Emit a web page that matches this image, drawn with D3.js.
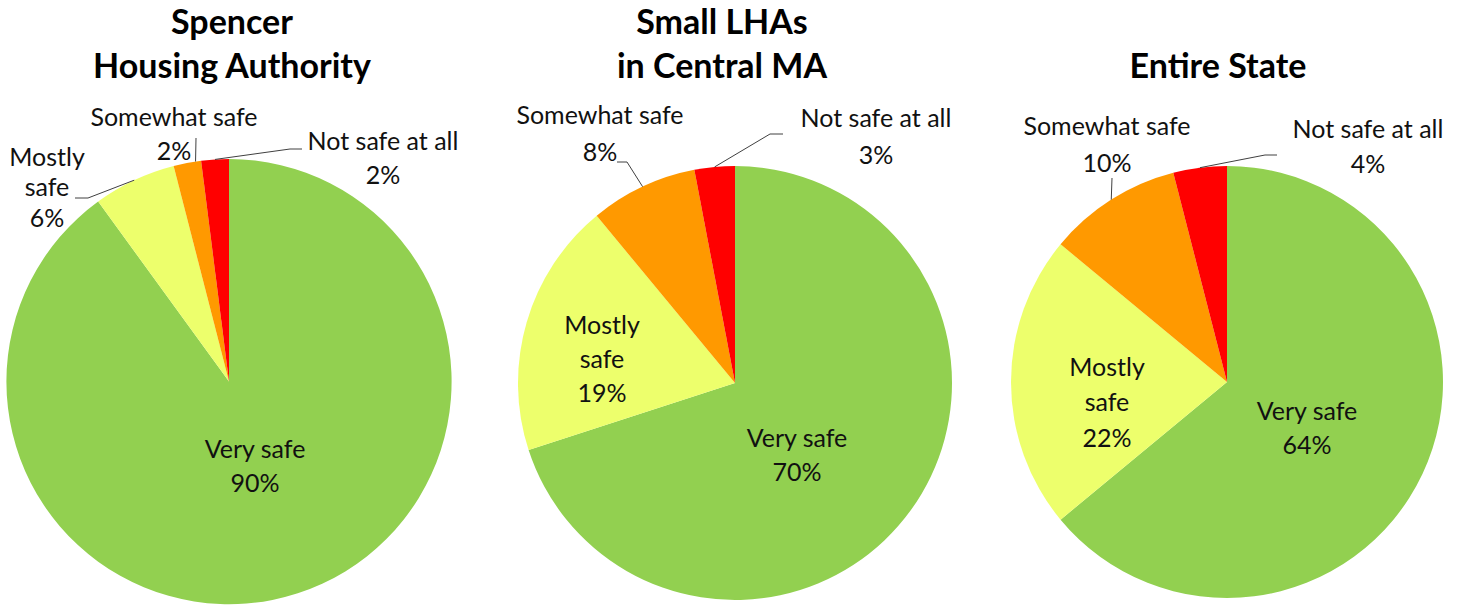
<!DOCTYPE html>
<html>
<head>
<meta charset="utf-8">
<script src="https://cdn.jsdelivr.net/npm/d3@7"></script>
<style>
  body { margin: 0; background: #fff; }
  svg { display: block; font-family: Lato, "Open Sans", sans-serif; }
  .title { font-size: 34px; font-weight: 700; fill: #000; text-anchor: middle; }
  .label { font-size: 25px; fill: #111; text-anchor: middle; }
  .leader { fill: none; stroke: #404040; stroke-width: 1; }
</style>
</head>
<body>
<svg id="chart" width="1466" height="605"></svg>
<script>
'use strict';

// data
const categories = ['Very safe', 'Mostly safe', 'Somewhat safe', 'Not safe at all'];
const chartTitles = [['Spencer', 'Housing Authority'], ['Small LHAs', 'in Central MA'], ['Entire State']];
const spencerValues = [90, 6, 2, 2];
const centralValues = [70, 19, 8, 3];
const stateValues = [64, 22, 10, 4];
const colors = ['#92d050', '#edff6c', '#ff9900', '#ff0000'];

// layout of each pie (center, radius, title position)
const pies = [
    { values: spencerValues, cx: 229, cy: 381.6, r: 222.6, tx: 232, ty: [22, 66] },
    { values: centralValues, cx: 735, cy: 383, r: 217, tx: 722, ty: [22, 66] },
    { values: stateValues, cx: 1227, cy: 382, r: 216, tx: 1218, ty: [66] }
];

// label placement relative to pie center; leader goes from text to slice edge
const labelLayout = [
    [
        { x: 26, y: 67.4, lines: 'split' },
        { x: -182, y: -224.6, lh: 30.5, lines: 'mostly', leader: [[-154, -183.6], [-141, -183.6]] },
        { x: -55, y: -264.6, leader: [[-33, -243.6]], t: 0.8 },
        { x: 154, y: -240.6, leader: [[73, -232.6], [61, -232.6]] }
    ],
    [
        { x: 62, y: 55, lines: 'split' },
        { x: -133, y: -58, lines: 'mostly' },
        { x: -135, y: -268, lh: 37, leader: [[-118, -221], [-108, -221]] },
        { x: 141, y: -265, lh: 37, leader: [[48, -249], [35, -249]] }
    ],
    [
        { x: 80, y: 29, lines: 'split' },
        { x: -120, y: -15, lh: 35.5, lines: 'mostly' },
        { x: -120, y: -256, lh: 37, leader: [[-115, -204]] },
        { x: 141, y: -253, lh: 35, leader: [[50, -227], [38, -227]] }
    ]
];

let svg = d3.select('#chart');

let pie = d3.pie()
    .sort(null)
    .value(d => d);

pies.forEach(function(p, pi) {
    let g = svg.append('g')
        .attr('transform', `translate(${p.cx}, ${p.cy})`);

    let arc = d3.arc()
        .innerRadius(0)
        .outerRadius(p.r);

    let arcs = pie(p.values);

    g.selectAll('path.slice')
        .data(arcs)
        .enter()
        .append('path')
        .attr('class', 'slice')
        .attr('d', arc)
        .attr('fill', (d, i) => colors[i]);

    // leader lines
    arcs.forEach(function(d, i) {
        let lay = labelLayout[pi][i];
        if (!lay.leader) return;
        let t = lay.t === undefined ? 0.5 : lay.t;
        let a = d.startAngle + (d.endAngle - d.startAngle) * t;
        let edge = [p.r * Math.sin(a), -p.r * Math.cos(a)];
        g.append('path')
            .attr('class', 'leader')
            .attr('d', d3.line()(lay.leader.concat([edge])));
    });

    // labels
    arcs.forEach(function(d, i) {
        let lay = labelLayout[pi][i];
        let pct = d.data + '%';
        let lines;
        if (lay.lines === 'mostly') {
            lines = categories[i].split(' ').concat([pct]);
        } else {
            lines = [categories[i], pct];
        }
        let lh = lay.lh || 34;
        let text = g.append('text')
            .attr('class', 'label');
        lines.forEach(function(l, li) {
            text.append('tspan')
                .attr('x', lay.x)
                .attr('y', lay.y + li * lh)
                .attr('dy', '0.35em')
                .text(l);
        });
    });

    // title
    let title = svg.append('text')
        .attr('class', 'title');
    chartTitles[pi].forEach(function(l, li) {
        title.append('tspan')
            .attr('x', p.tx)
            .attr('y', p.ty[li])
            .attr('dy', '0.35em')
            .text(l);
    });
});
</script>
</body>
</html>
